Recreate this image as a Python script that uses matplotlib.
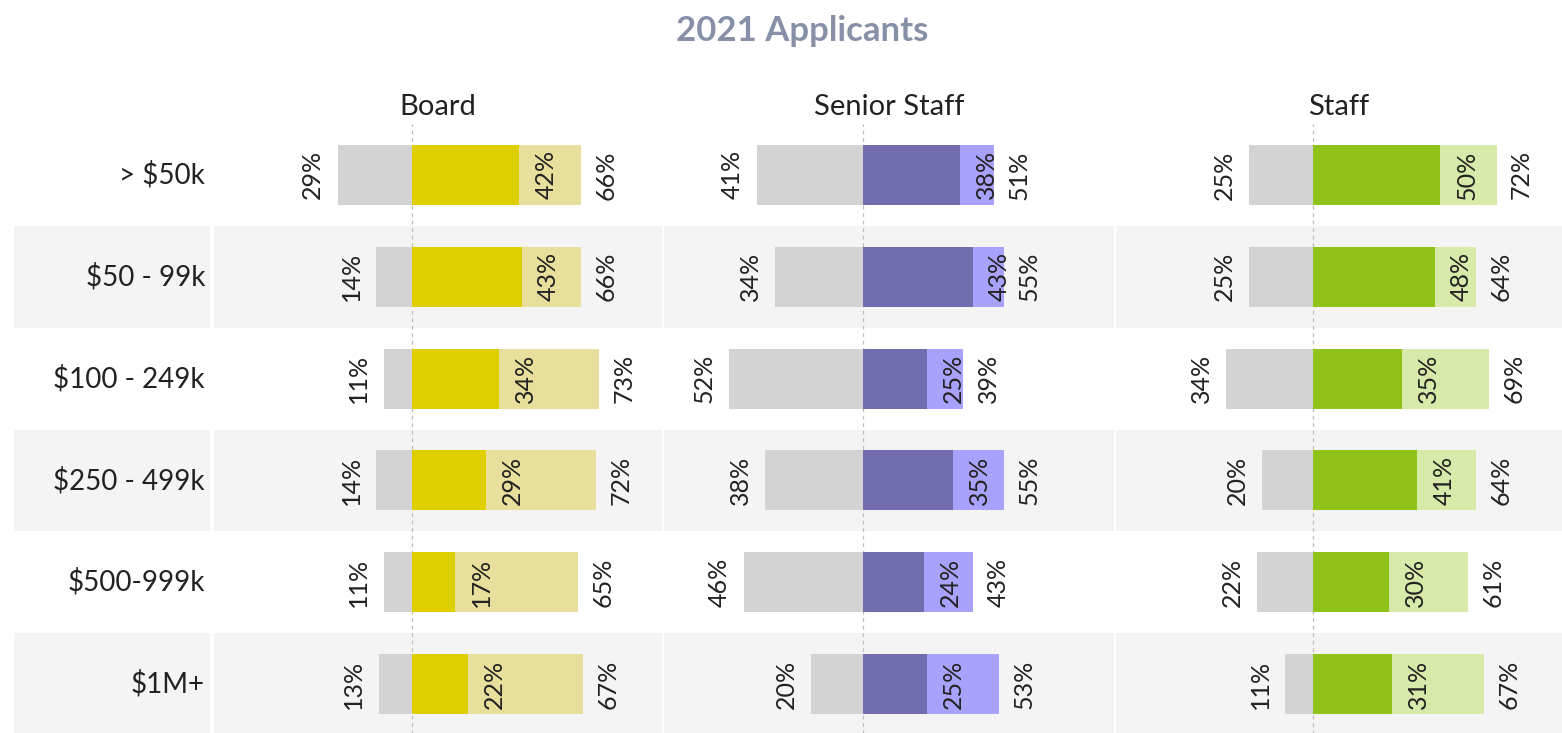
"""
2021 applicants: diverging bars by budget size and role
"""

import matplotlib.pyplot as plt

plt.rcParams['font.family'] = ['Lato', 'DejaVu Sans']

# budget categories (top to bottom)
categories = ['> $50k', '$50 - 99k', '$100 - 249k', '$250 - 499k', '$500-999k', '$1M+']
groups = ['Board', 'Senior Staff', 'Staff']

# grey (left) share, dark share, total share (%)
board_left = [29, 14, 11, 14, 11, 13]
board_mid = [42, 43, 34, 29, 17, 22]
board_total = [66, 66, 73, 72, 65, 67]

senior_left = [41, 34, 52, 38, 46, 20]
senior_mid = [38, 43, 25, 35, 24, 25]
senior_total = [51, 55, 39, 55, 43, 53]

staff_left = [25, 25, 34, 20, 22, 11]
staff_mid = [50, 48, 35, 41, 30, 31]
staff_total = [72, 64, 69, 64, 61, 67]

lefts = [board_left, senior_left, staff_left]
mids = [board_mid, senior_mid, staff_mid]
totals = [board_total, senior_total, staff_total]

dark_colors = ['#e0cf00', '#726dae', '#8fc31a']
light_colors = ['#e7df9b', '#a9a2fc', '#d7eaa9']
GREY = '#d3d3d3'
BAND = '#f4f4f4'
TXT = '#222222'

W, H = 1562, 733
fig = plt.figure(figsize=(W / 100, H / 100), dpi=100)

top = 124
ax_h = (H + 2 - top) / H
n = len(categories)


def add_bands(ax):
	for i in range(n):
		if i % 2 == 1:
			ax.axhspan(i - 0.5, i + 0.5, color=BAND, zorder=0, lw=0)


# label column
lab = fig.add_axes([14 / W, -2 / H, (210 - 14) / W, ax_h])
add_bands(lab)
lab.set_xlim(0, 1)
lab.set_ylim(n - 0.5, -0.5)
for i, c in enumerate(categories):
	lab.text(0.975, i, c, ha='right', va='center', fontsize=20, color=TXT)
lab.axis('off')

panels = [(214, 662), (664, 1114), (1116, 1562)]
for k, (x0, x1) in enumerate(panels):
	ax = fig.add_axes([x0 / W, -2 / H, (x1 - x0) / W, ax_h])
	add_bands(ax)
	ax.set_xlim(-77.3, 97.7)
	ax.set_ylim(n - 0.5, -0.5)
	ax.axvline(0, color='#bdbdbd', lw=0.9, ls=(0, (3, 3)), zorder=1)

	ys = list(range(n))
	ax.barh(ys, [-v for v in lefts[k]], height=0.59, color=GREY, zorder=2)
	ax.barh(ys, mids[k], height=0.59, color=dark_colors[k], zorder=2)
	ax.barh(ys, [t - m for t, m in zip(totals[k], mids[k])], left=mids[k],
			height=0.59, color=light_colors[k], zorder=2)

	for i in ys:
		ax.annotate('%d%%' % lefts[k][i], (-lefts[k][i], i), xytext=(-18, 0),
					textcoords='offset points', rotation=90, ha='center', va='center',
					fontsize=18, color=TXT, zorder=3)
		ax.annotate('%d%%' % mids[k][i], (mids[k][i], i), xytext=(19, 0),
					textcoords='offset points', rotation=90, ha='center', va='center',
					fontsize=18, color=TXT, zorder=3)
		ax.annotate('%d%%' % totals[k][i], (totals[k][i], i), xytext=(18, 0),
					textcoords='offset points', rotation=90, ha='center', va='center',
					fontsize=18, color=TXT, zorder=3)

	ax.text(0.5, 1.0 + 17 / (H * ax_h), groups[k], transform=ax.transAxes,
			ha='center', va='center', fontsize=21, color=TXT)
	ax.axis('off')

fig.text(802 / W, 1 - 31 / H, '2021 Applicants', ha='center', va='center',
		 fontsize=25, fontweight='bold', color='#8890a8')

fig.savefig('out.png', dpi=100)
